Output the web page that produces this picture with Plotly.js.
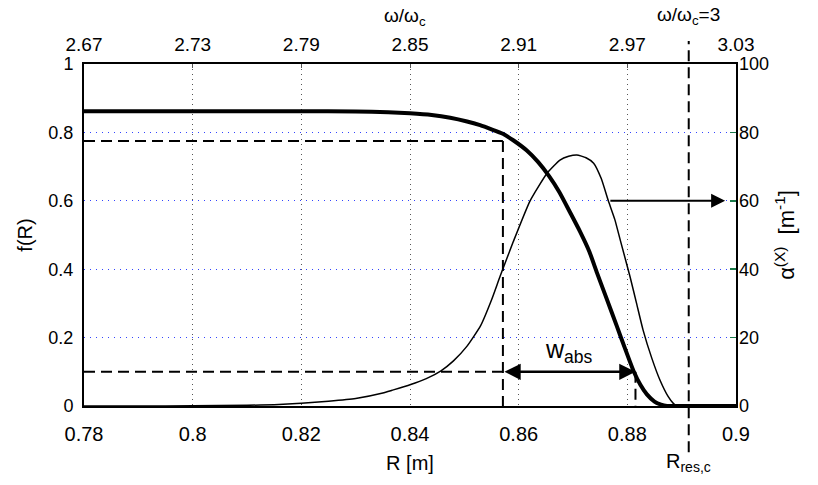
<!DOCTYPE html>
<html>
<head>
<meta charset="utf-8">
<script src="https://cdn.plot.ly/plotly-3.0.1.min.js"></script>
<style>html,body{margin:0;padding:0;background:#fff;}#chart{width:818px;height:485px;}</style>
</head>
<body>
<div id="chart"></div>
<script>
// ---- data ----
const R_f = [0.78, 0.80, 0.82, 0.83, 0.836, 0.84, 0.844, 0.8474, 0.8505, 0.8529, 0.855, 0.8571, 0.859, 0.8615, 0.8636, 0.8656, 0.8675, 0.8695, 0.8713, 0.873, 0.8744, 0.876, 0.8781, 0.8796, 0.8811, 0.8824, 0.8836, 0.885, 0.8862, 0.8873, 0.889, 0.895, 0.9];
const f_R = [0.862, 0.862, 0.862, 0.861, 0.859, 0.856, 0.851, 0.843, 0.832, 0.821, 0.809, 0.796, 0.777, 0.747, 0.713, 0.672, 0.625, 0.565, 0.51, 0.452, 0.39, 0.322, 0.232, 0.167, 0.104, 0.062, 0.034, 0.013, 0.004, 0, 0, 0, 0];

const R_a = [0.78, 0.79, 0.80, 0.81, 0.815, 0.82, 0.825, 0.83, 0.835, 0.8367, 0.84, 0.843, 0.8457, 0.848, 0.8505, 0.853, 0.855, 0.8566, 0.859, 0.8621, 0.8652, 0.8676, 0.8692, 0.8707, 0.8724, 0.8738, 0.8752, 0.8765, 0.8777, 0.8787, 0.8805, 0.8817, 0.8829, 0.8845, 0.886, 0.8875, 0.8885, 0.8891, 0.892, 0.896, 0.9];
const alphaX = [0, 0, 0.05, 0.2, 0.4, 0.8, 1.4, 2.2, 3.8, 4.6, 6.2, 8.0, 10.3, 13.2, 17.5, 23.5, 31, 38, 48, 60, 68, 71.9, 73.0, 73.4, 72.6, 71, 66.5, 60, 54.5, 48.5, 37.8, 30, 22.2, 14, 7.6, 2.8, 0.7, 0, 0, 0, 0];

const xTickVals = [0.78, 0.80, 0.82, 0.84, 0.86, 0.88, 0.90];
const xTickText = ["0.78", "0.8", "0.82", "0.84", "0.86", "0.88", "0.9"];
const topTickText = ["2.67", "2.73", "2.79", "2.85", "2.91", "2.97", "3.03"];
const yTickVals = [0, 0.2, 0.4, 0.6, 0.8, 1];
const yTickText = ["0", "0.2", "0.4", "0.6", "0.8", "1"];
const y2TickVals = [0, 20, 40, 60, 80, 100];

const fLevels = [0.775, 0.1];       // horizontal dashed reference levels
const wEdges = [0.8571, 0.8815];    // absorption width edges (R)
const Rres = 0.8913;                // resonance position (ω/ωc = 3)
const arrowAlpha = 60;              // level of arrow pointing to right axis
const arrowR = [0.8766, 0.898];

// ---- traces ----
const dashStyle = {color: 'black', width: 2, dash: '11px,6px'};
const traces = [
  {x: R_f, y: f_R, type: 'scatter', mode: 'lines', line: {color: 'black', width: 4, shape: 'spline', smoothing: 0.5}, xaxis: 'x', yaxis: 'y', hoverinfo: 'skip'},
  {x: R_a, y: alphaX, type: 'scatter', mode: 'lines', line: {color: 'black', width: 1.5, shape: 'spline', smoothing: 0.5}, xaxis: 'x', yaxis: 'y2', hoverinfo: 'skip'},
  {x: [0.78, wEdges[0]], y: [fLevels[0], fLevels[0]], mode: 'lines', line: dashStyle, xaxis: 'x', yaxis: 'y', hoverinfo: 'skip'},
  {x: [0.78, wEdges[0]], y: [fLevels[1], fLevels[1]], mode: 'lines', line: dashStyle, xaxis: 'x', yaxis: 'y', hoverinfo: 'skip'},
  {x: [wEdges[0], wEdges[0]], y: [fLevels[0], 0], mode: 'lines', line: dashStyle, xaxis: 'x', yaxis: 'y', hoverinfo: 'skip'},
  {x: [wEdges[1], wEdges[1]], y: [fLevels[1], 0], mode: 'lines', line: dashStyle, xaxis: 'x', yaxis: 'y', hoverinfo: 'skip'},
  {x: [0.78, 0.9], y: [null, null], mode: 'lines', xaxis: 'x2', yaxis: 'y', hoverinfo: 'skip', showlegend: false}
];

const fam = 'Liberation Sans, Arial, Helvetica, sans-serif';
const F = (s) => ({family: fam, size: s, color: 'black'});

const layout = {
  width: 818, height: 485,
  margin: {l: 84, r: 82, t: 64, b: 79},
  paper_bgcolor: 'white', plot_bgcolor: 'white',
  showlegend: false,
  font: F(17),
  xaxis: {
    range: [0.78, 0.9], tickvals: xTickVals, ticktext: xTickText,
    showgrid: true, gridcolor: '#555', griddash: '1px,4px', gridwidth: 1,
    showline: true, linecolor: 'black', linewidth: 2, mirror: true,
    ticks: '', zeroline: false, tickfont: F(20), ticklabelstandoff: 9,
    title: {text: 'R [m]', font: F(20), standoff: 12}
  },
  xaxis2: {
    overlaying: 'x', side: 'top', anchor: 'y',
    range: [0.78, 0.9], tickvals: xTickVals, ticktext: topTickText,
    showgrid: false, showline: false, ticks: 'inside', ticklen: 4, tickcolor: '#555', tickwidth: 1,
    zeroline: false, tickfont: F(19), ticklabelstandoff: 8
  },
  yaxis: {
    range: [0, 1], tickvals: yTickVals, ticktext: yTickText,
    showgrid: true, gridcolor: '#3344ff', griddash: '1px,5px', gridwidth: 1,
    showline: true, linecolor: 'black', linewidth: 2, mirror: true,
    ticks: '', zeroline: false, tickfont: F(18), ticklabelstandoff: 5,
    title: {text: 'f(R)', font: F(20), standoff: 10}
  },
  yaxis2: {
    overlaying: 'y', side: 'right', anchor: 'x',
    range: [0, 100], tickvals: y2TickVals,
    showgrid: false, showline: false, ticks: 'inside', ticklen: 6, tickcolor: '#1a7a4a', tickwidth: 1.5,
    zeroline: false, tickfont: F(18), ticklabelstandoff: 2,
    title: {text: 'α<sup>(X)</sup>  [m<sup>-1</sup>]', font: F(22), standoff: 10}
  },
  shapes: [
    {type: 'line', xref: 'x', yref: 'paper', x0: Rres, x1: Rres, y0: -0.135, y1: 1.067,
     line: {color: 'black', width: 2, dash: '11px,6px'}}
  ],
  annotations: [
    {xref: 'x', yref: 'y', axref: 'x', ayref: 'y', x: wEdges[1], y: fLevels[1], ax: wEdges[0], ay: fLevels[1],
     text: '', showarrow: true, arrowhead: 2, arrowside: 'end+start', arrowsize: 1.3, arrowwidth: 2.5, arrowcolor: 'black'},
    {xref: 'x', yref: 'y', x: (wEdges[0] + wEdges[1]) / 2, y: 0.16, text: 'w<sub>abs</sub>',
     showarrow: false, font: F(25)},
    {xref: 'x', yref: 'y2', axref: 'x', ayref: 'y2', x: arrowR[1], y: arrowAlpha, ax: arrowR[0], ay: arrowAlpha,
     text: '', showarrow: true, arrowhead: 2, arrowsize: 1.4, arrowwidth: 2, arrowcolor: 'black'},
    {xref: 'paper', yref: 'paper', x: 0.493, y: 1.137, yanchor: 'middle', text: 'ω/ω<sub>c</sub>', showarrow: false, font: F(19)},
    {xref: 'x', yref: 'paper', x: Rres, y: 1.14, yanchor: 'middle', text: 'ω/ω<sub>c</sub>=3', showarrow: false, font: F(19)},
    {xref: 'x', yref: 'paper', x: Rres, y: -0.165, yanchor: 'middle', text: 'R<sub>res,c</sub>', showarrow: false,
     font: F(20)}
  ]
};

Plotly.newPlot('chart', traces, layout, {staticPlot: true, displayModeBar: false});
</script>
</body>
</html>
